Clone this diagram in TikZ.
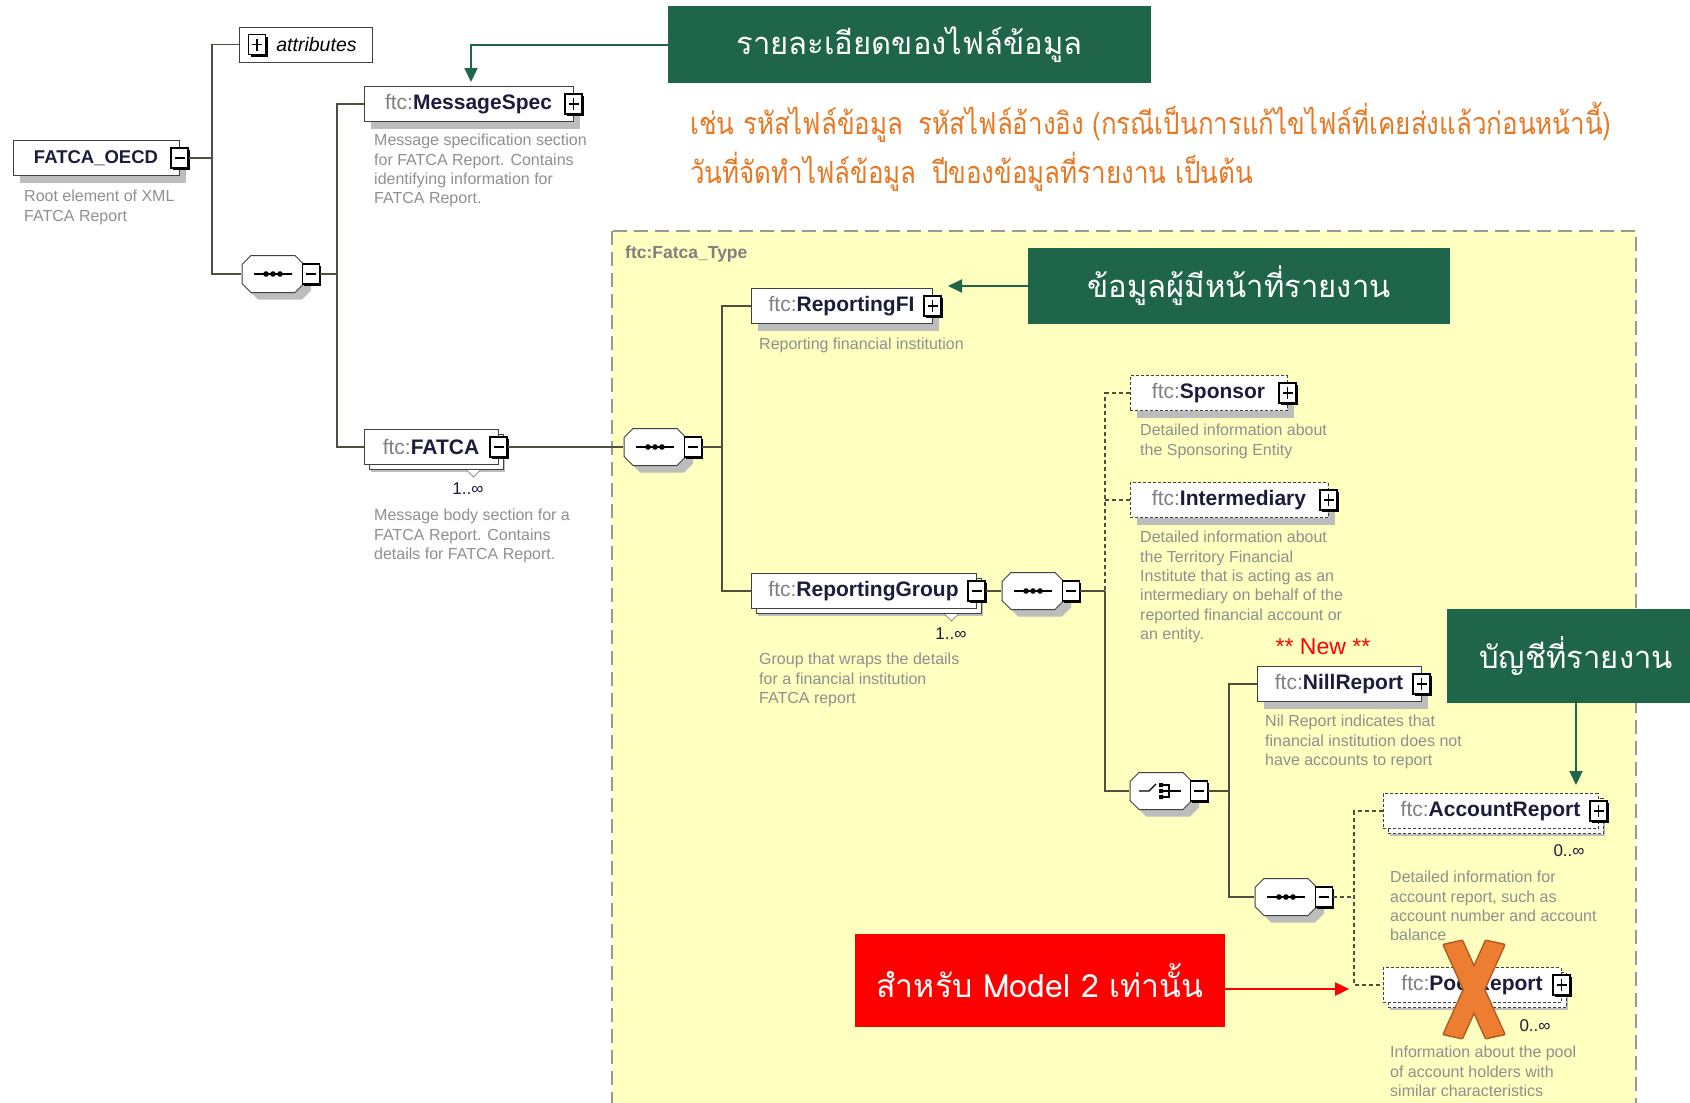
\documentclass[tikz,border=0pt]{standalone}
\usepackage{fontspec}
\setmainfont{Liberation Sans}
\newfontfamily\thaifont[Script=Thai]{Loma}
\newfontfamily\thainarrow[Script=Thai,FakeStretch=0.85]{Loma}
\usepackage{tikz}
\usetikzlibrary{shadows,arrows.meta,calc}

\definecolor{capgreen}{HTML}{1F6549}
\definecolor{noteorange}{HTML}{E87722}
\definecolor{typeyellow}{HTML}{FFFFC0}
\definecolor{treeline}{HTML}{4F4F3F}
\definecolor{descgray}{HTML}{8F8F8F}
\definecolor{namenavy}{HTML}{1C1C3C}
\definecolor{shadowgray}{HTML}{BDBDBD}
\definecolor{crossorange}{HTML}{ED7D31}
\definecolor{crossedge}{HTML}{AE5A21}

\newcommand{\ftc}[1]{{\color{gray}ftc:}\textbf{\color{namenavy}#1}}
\newcommand{\octagonpath}{(-22,-18.5) -- (22,-18.5) -- (31,-9.5) -- (31,9.5) -- (22,18.5) -- (-22,18.5) -- (-31,9.5) -- (-31,-9.5) -- cycle}

\begin{document}
\begin{tikzpicture}[x=1pt, y=-1pt,
    tree/.style={draw=treeline, line width=1.5pt},
    opttree/.style={tree, dash pattern=on 4pt off 3pt},
    boxbase/.style={draw=black!75, line width=1pt, fill=white, minimum height=35pt,
        inner sep=0pt, font=\fontsize{21}{24}\selectfont},
    elem/.style={boxbase, general shadow={fill=shadowgray, shadow xshift=7pt, shadow yshift=-7pt}},
    optelem/.style={elem, dash pattern=on 3pt off 2pt},
    many/.style={copy shadow={shadow xshift=5pt, shadow yshift=-5pt, draw=black!75, line width=1pt, fill=white}},
    optmany/.style={copy shadow={shadow xshift=5pt, shadow yshift=-5pt, draw=black!75, line width=1pt, fill=white, dash pattern=on 3pt off 2pt}},
    pmbox/.style={draw=black, line width=1.1pt, fill=white, minimum width=17pt, minimum height=20pt, inner sep=0pt,
        general shadow={fill=black, shadow xshift=2pt, shadow yshift=-2pt}},
    plusbox/.style={pmbox, path picture={
        \begin{scope}[shift={(path picture bounding box.center)}]
          \draw[black, line width=1.1pt] (-5,0) -- (5,0) (0,-6) -- (0,6);
        \end{scope}}},
    minusbox/.style={pmbox, path picture={
        \begin{scope}[shift={(path picture bounding box.center)}]
          \draw[black, line width=1.1pt] (-5,0) -- (5,0);
        \end{scope}}},
    compositor/.style={minimum width=63pt, minimum height=38pt, inner sep=0pt,
        general shadow={shadow xshift=7pt, shadow yshift=-7pt, path picture={
          \begin{scope}[shift={(path picture bounding box.center)}]
            \fill[shadowgray] \octagonpath;
          \end{scope}}}},
    seqnode/.style={compositor, path picture={
        \begin{scope}[shift={(path picture bounding box.center)}]
          \filldraw[fill=white, draw=black!75, line width=1pt] \octagonpath;
          \draw[black, line width=1.3pt] (-19,0) -- (19,0);
          \foreach \dx in {-7,0,7} \fill[black] (\dx,0) circle[radius=2.8pt];
        \end{scope}}},
    choicenode/.style={compositor, path picture={
        \begin{scope}[shift={(path picture bounding box.center)}]
          \filldraw[fill=white, draw=black!75, line width=1pt] \octagonpath;
          \draw[black, line width=1.3pt] (-22,0) -- (-12,0) -- (-5,-7);
          \fill[black] (-2,-8) rectangle (2,-4) (-2,-2) rectangle (2,2) (-2,4) rectangle (2,8);
          \draw[black, line width=1.3pt] (2,-6) -- (8,-6) -- (8,6) -- (2,6) (2,0) -- (20,0);
        \end{scope}}},
    desc/.style={anchor=north west, align=left, inner sep=0pt, text=descgray,
        font=\fontsize{16}{19.3}\selectfont},
    mult/.style={inner sep=0pt, text=namenavy, font=\fontsize{17}{19}\selectfont},
    caption/.style={fill=capgreen, text=white, inner sep=0pt, font=\thaifont\fontsize{31}{36}\selectfont},
    garrow/.style={draw=capgreen, line width=2pt, -{Triangle[length=14pt,width=13pt]}},
    rarrow/.style={draw=red, line width=2.5pt, -{Triangle[length=14pt,width=13pt]}}
  ]
  \useasboundingbox (0,0) rectangle (1690,1103);

  % Fatca_Type area
  \draw[fill=typeyellow, draw=gray!80, line width=1.5pt, dash pattern=on 14pt off 7pt]
    (612,231) rectangle (1636,1115);
  \node[anchor=west, inner sep=0pt, text=gray, font=\bfseries\fontsize{17.5}{20}\selectfont]
    (ftype) at (625,254) {ftc:Fatca\_Type};

  % Root
  \node[elem, minimum width=166pt, font=\bfseries\fontsize{18.5}{22}\selectfont, text=namenavy]
    (oecd) at (96,158) {FATCA\_OECD};
  \node[minusbox] (oecd-pm) at (oecd.east) {};
  \node[desc] (oecd-d) at (24,190) {Root element of XML\\FATCA Report};

  \node[boxbase, minimum width=133pt, font=\fontsize{19.5}{22}\selectfont] (attr) at (305.5,44.5) {\hspace{22pt}\textit{attributes}};
  \node[plusbox] (attr-pm) at (257,44.5) {};

  \node[seqnode] (seq1) at (273,274) {};
  \node[minusbox] (seq1-pm) at ([xshift=6pt]seq1.east) {};

  \coordinate (t-root) at (212,158);
  \draw[tree] (oecd-pm.east) -- (t-root);
  \draw[tree] (attr.west) -| (t-root) |- (seq1.west);

  % MessageSpec and FATCA
  \node[elem, minimum width=209pt] (msgspec) at (468.5,104) {\ftc{MessageSpec}};
  \node[plusbox] (msgspec-pm) at (msgspec.east) {};
  \node[desc] (msgspec-d) at (374,134) {Message specification section\\for FATCA Report. Contains\\identifying information for\\FATCA Report.};

  \node[elem, many, minimum width=134pt] (fatca) at (431,447) {\ftc{FATCA}};
  \node[minusbox] (fatca-pm) at (fatca.east) {};
  \draw[black!60, fill=white] ([xshift=-32pt,yshift=-5pt]fatca.south east) -- ++(7,7) -- ++(7,-7);
  \node[mult] (fatca-m) at (468,489) {1..∞};
  \node[desc] (fatca-d) at (374,509) {Message body section for a\\FATCA Report. Contains\\details for FATCA Report.};

  \coordinate (t-seq1) at (337,274);
  \draw[tree] (seq1-pm.east) -- (t-seq1);
  \draw[tree] (msgspec.west) -| (t-seq1) |- (fatca.west);

  \node[seqnode] (seq2) at (655,447) {};
  \node[minusbox] (seq2-pm) at ([xshift=6pt]seq2.east) {};
  \draw[tree] (fatca-pm.east) -- (seq2.west);

  % ReportingFI and ReportingGroup
  \node[elem, minimum width=181pt] (repfi) at (841.5,306) {\ftc{ReportingFI}};
  \node[plusbox] (repfi-pm) at (repfi.east) {};
  \node[desc] (repfi-d) at (759,338) {Reporting financial institution};

  \node[elem, many, minimum width=225pt] (repgrp) at (863.5,591) {\ftc{ReportingGroup}};
  \node[minusbox] (repgrp-pm) at (repgrp.east) {};
  \draw[black!60, fill=white] ([xshift=-32pt,yshift=-5pt]repgrp.south east) -- ++(7,7) -- ++(7,-7);
  \node[mult] (repgrp-m) at (951,634) {1..∞};
  \node[desc] (repgrp-d) at (759,653) {Group that wraps the details\\for a financial institution\\FATCA report};

  \coordinate (t-seq2) at (722,447);
  \draw[tree] (seq2-pm.east) -- (t-seq2);
  \draw[tree] (repfi.west) -| (t-seq2) |- (repgrp.west);

  \node[seqnode] (seq3) at (1033,591) {};
  \node[minusbox] (seq3-pm) at ([xshift=6pt]seq3.east) {};
  \draw[tree] (repgrp-pm.east) -- (seq3.west);

  % Sponsor, Intermediary
  \node[optelem, minimum width=157pt] (sponsor) at (1208.5,393) {\ftc{Sponsor}};
  \node[plusbox] (sponsor-pm) at (sponsor.east) {};
  \node[desc] (sponsor-d) at (1140,424) {Detailed information about\\the Sponsoring Entity};

  \node[optelem, minimum width=198pt] (interm) at (1229,500) {\ftc{Intermediary}};
  \node[plusbox] (interm-pm) at (interm.east) {};
  \node[desc] (interm-d) at (1140,531) {Detailed information about\\the Territory Financial\\Institute that is acting as an\\intermediary on behalf of the\\reported financial account or\\an entity.};

  \coordinate (t-seq3) at (1105,591);
  \draw[tree] (seq3-pm.east) -- (t-seq3);
  \draw[opttree] (sponsor.west) -| (t-seq3);
  \draw[opttree] (interm.west) -- (interm.west -| t-seq3);

  % choice
  \node[choicenode] (choice) at (1161,791) {};
  \node[minusbox] (choice-pm) at ([xshift=6pt]choice.east) {};
  \draw[tree] (t-seq3) |- (choice.west);

  \node[text=red, inner sep=0pt, font=\fontsize{23}{26}\selectfont] (newtag) at (1323,647) {** New **};

  \node[elem, minimum width=164pt] (nill) at (1339,684) {\ftc{NillReport}};
  \node[plusbox] (nill-pm) at (nill.east) {};
  \node[desc] (nill-d) at (1265,715) {Nil Report indicates that\\financial institution does not\\have accounts to report};

  \node[seqnode] (seq4) at (1286,897) {};
  \node[minusbox] (seq4-pm) at ([xshift=6pt]seq4.east) {};

  \coordinate (t-choice) at (1229,791);
  \draw[tree] (choice-pm.east) -- (t-choice);
  \draw[tree] (nill.west) -| (t-choice) |- (seq4.west);

  % AccountReport, PoolReport
  \node[optelem, optmany, minimum width=215pt] (acct) at (1490.5,811) {\ftc{AccountReport}};
  \node[plusbox] (acct-pm) at (acct.east) {};
  \node[mult] (acct-m) at (1569,851) {0..∞};
  \node[desc] (acct-d) at (1390,871) {Detailed information for\\account report, such as\\account number and account\\balance};

  \node[optelem, optmany, minimum width=178pt] (pool) at (1472,985) {\ftc{PoolReport}};
  \node[plusbox] (pool-pm) at (pool.east) {};
  \node[mult] (pool-m) at (1535,1026) {0..∞};
  \node[desc] (pool-d) at (1390,1046) {Information about the pool\\of account holders with\\similar characteristics};

  \coordinate (t-seq4) at (1354,897);
  \draw[opttree] (seq4-pm.east) -- (t-seq4);
  \draw[opttree] (acct.west) -| (t-seq4) |- (pool.west);

  % cross over PoolReport
  \draw[crossedge, line width=3pt, line join=round]
    (1444,945) -- (1462,941) -- (1504,1034) -- (1486,1038) -- cycle
    (1486,941) -- (1504,945) -- (1462,1038) -- (1444,1034) -- cycle;
  \fill[crossorange]
    (1444,945) -- (1462,941) -- (1504,1034) -- (1486,1038) -- cycle
    (1486,941) -- (1504,945) -- (1462,1038) -- (1444,1034) -- cycle;

  % Thai captions
  \node[caption, minimum width=483pt, minimum height=77pt] (cap-file) at (909.5,44.5) {รายละเอียดของไฟล์ข้อมูล};
  \coordinate (msg-in) at (471,82);
  \draw[garrow] (cap-file.west) -| (msg-in);

  \node[anchor=west, inner sep=0pt, text=noteorange, font=\thainarrow\fontsize{30.5}{34}\selectfont]
    (note1) at (690,122) {เช่น รหัสไฟล์ข้อมูล\enspace รหัสไฟล์อ้างอิง (กรณีเป็นการแก้ไขไฟล์ที่เคยส่งแล้วก่อนหน้านี้)};
  \node[anchor=west, inner sep=0pt, text=noteorange, font=\thainarrow\fontsize{30.5}{34}\selectfont]
    (note2) at (690,172) {วันที่จัดทำไฟล์ข้อมูล\enspace ปีของข้อมูลที่รายงาน เป็นต้น};

  \node[caption, minimum width=422pt, minimum height=76pt] (cap-fi) at (1239,286) {ข้อมูลผู้มีหน้าที่รายงาน};
  \coordinate (fi-in) at (948,286);
  \draw[garrow] (cap-fi.west) -- (fi-in);

  \node[caption, minimum width=258pt, minimum height=94pt] (cap-acct) at (1576,656) {บัญชีที่รายงาน};
  \coordinate (acct-in) at (1576,785);
  \draw[garrow] (cap-acct.south) -- (acct-in);

  \node[fill=red, text=white, inner sep=0pt, minimum width=370pt, minimum height=93pt,
    font=\thaifont\fontsize{32}{36}\selectfont] (model2) at (1040,980.5) {สำหรับ Model 2 เท่านั้น};
  \coordinate (pool-in) at (1349,989);
  \draw[rarrow] (model2.east |- pool-in) -- (pool-in);
\end{tikzpicture}
\end{document}
